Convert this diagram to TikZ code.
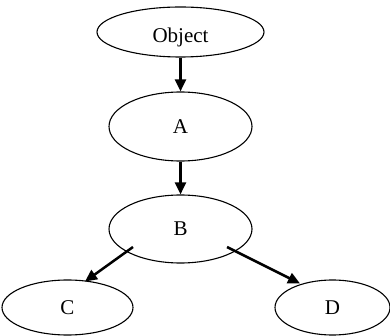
\documentclass[tikz,border=0pt]{standalone}
\usepackage{fontspec}
\setmainfont{Liberation Serif}
\usetikzlibrary{shapes.geometric,arrows.meta,calc}
\begin{document}
\begin{tikzpicture}[x=1pt,y=-1pt,
  oval/.style={draw, ellipse, line width=1.1pt, inner sep=0pt,
               font=\fontsize{21}{21}\selectfont},
  link/.style={line width=2.5pt, -{Triangle[length=12pt,width=11pt]}}]
\useasboundingbox (0,0) rectangle (390,336);

% class hierarchy nodes
\node[oval, minimum width=167pt, minimum height=50pt] (obj) at (180.5,32) {};
\node[font=\fontsize{21}{21}\selectfont, inner sep=0pt] (objname) at (180.5,37) {Object};
\node[oval, minimum width=143pt, minimum height=69pt] (A) at (180.5,126.5) {A};
\node[oval, minimum width=143pt, minimum height=68pt] (B) at (180.5,229) {B};
\node[oval, minimum width=131pt, minimum height=55pt] (C) at (67.5,307.5) {C};
\node[oval, minimum width=115pt, minimum height=55pt] (D) at (332.5,307.5) {D};

% start and end points of the diagonal links
\coordinate (Bl) at ($(B.center)+(-47.5,18)$);
\coordinate (Br) at ($(B.center)+(46.5,18)$);
\coordinate (Ct) at ($(C.center)+(17.5,-26)$);
\coordinate (Dt) at ($(D.center)+(-32.5,-24)$);

% inheritance links
\draw[link] (obj) -- (A);
\draw[link] (A) -- (B);
\draw[link] (Bl) -- (Ct);
\draw[link] (Br) -- (Dt);
\end{tikzpicture}
\end{document}
